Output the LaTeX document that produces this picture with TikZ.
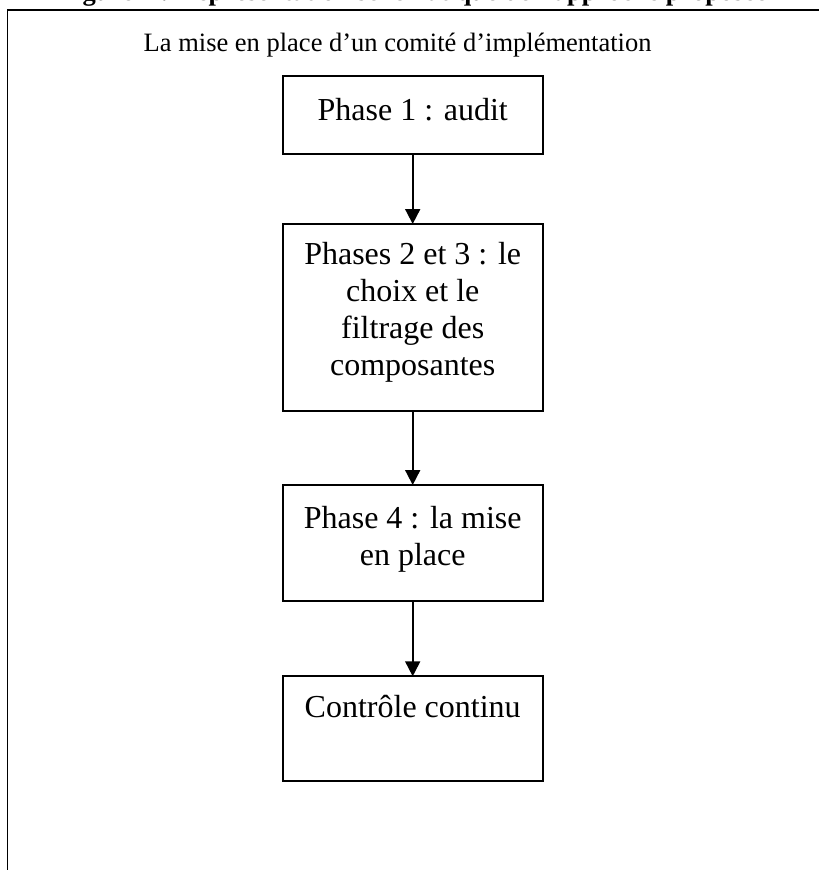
\documentclass[tikz,border=0pt]{standalone}
\usepackage{fontspec}
\setmainfont{Liberation Serif}
\usetikzlibrary{arrows.meta}
\begin{document}
\begin{tikzpicture}[x=1pt,y=-1pt,
  box/.style={draw=black,line width=1.7pt,minimum width=260pt,inner sep=0pt,outer sep=0pt},
  boxtext/.style={align=center,inner sep=0pt,anchor=base,font=\fontsize{32}{36.8}\selectfont},
  conn/.style={line width=1.8pt,-{Triangle[width=15pt,length=15pt]}}]
\path[use as bounding box,clip] (0,0) rectangle (819,870);
\fill[white] (0,0) rectangle (819,870);
% clipped title
\node[anchor=base,inner sep=0pt,font=\fontsize{26.5}{30}\selectfont\bfseries] (title) at (413,0.5)
  {Figure 4 : Représentation schématique de l’approche proposée};
% frame
\coordinate (fl) at (7.5,870);
\coordinate (ftl) at (7.5,10);
\coordinate (ftr) at (819,10);
\draw[line width=1.9pt] (fl) -- (ftl) -- (ftr);
% subtitle
\node[anchor=base west,inner sep=0pt,font=\fontsize{26.5}{30}\selectfont] (sub) at (143.5,51.5)
  {La mise en place d’un comité d’implémentation};
% boxes
\node[box,minimum height=78pt] (b1) at (412.7,115) {};
\node[box,minimum height=187pt] (b2) at (412.7,317.5) {};
\node[box,minimum height=116pt] (b3) at (412.7,543) {};
\node[box,minimum height=104.4pt] (b4) at (412.7,728.5) {};
% texts (base = baseline of last line)
\node[boxtext] (t1) at (412.7,120) {Phase 1 : audit};
\node[boxtext] (t2) at (412.7,375) {Phases 2 et 3 : le\\choix et le\\filtrage des\\composantes};
\node[boxtext] (t3) at (412.7,565) {Phase 4 : la mise\\en place};
\node[boxtext] (t4) at (412.7,717) {Contrôle continu};
% connectors
\draw[conn] (b1.south) -- (b2.north);
\draw[conn] (b2.south) -- (b3.north);
\draw[conn] (b3.south) -- (b4.north);
\end{tikzpicture}
\end{document}
